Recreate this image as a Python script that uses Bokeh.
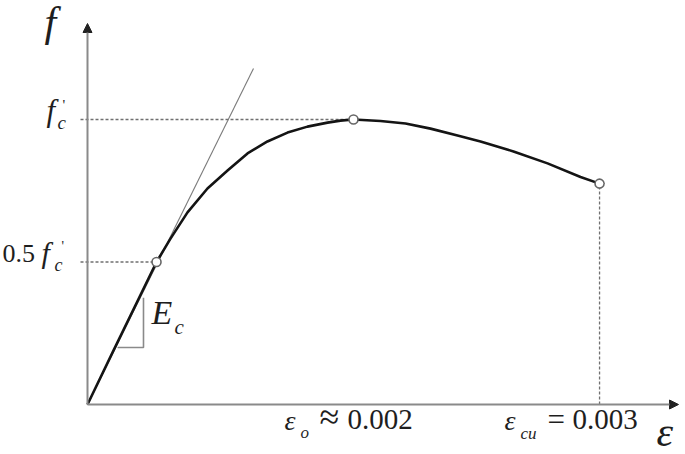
from bokeh.plotting import figure
from bokeh.models import Range1d, Arrow, NormalHead, Label
from bokeh.embed import file_html
from bokeh.resources import INLINE

# ---- data (schematic stress-strain curve of concrete) ----
strain = [0.0, 0.000195, 0.000519, 0.000624, 0.000752, 0.000902, 0.001053, 0.001203,
          0.001353, 0.001504, 0.001654, 0.001805, 0.001902, 0.002,
          0.002203, 0.002391, 0.002579, 0.002782, 0.002955, 0.003203, 0.003459, 0.003707, 0.00385]
stress_ratio = [0.0, 0.189, 0.5, 0.582, 0.674, 0.758, 0.821, 0.881,
                0.923, 0.954, 0.975, 0.989, 0.996, 1.0,
                0.995, 0.986, 0.968, 0.944, 0.923, 0.888, 0.846, 0.798, 0.775]
marker_strain = [0.000519, 0.002, 0.00385]
marker_stress = [0.5, 1.0, 0.775]
tangent_strain = [0.0, 0.001248]
tangent_stress = [0.0, 1.179]
triangle_strain = [0.000226, 0.000421, 0.000421]
triangle_stress = [0.2, 0.2, 0.375]

# ---- pixel -> data helpers (layout only) ----
X0_PX, XSCALE = 87.0, 133000.0   # canvas px at strain 0, px per unit strain
Y0_PX, YSCALE = 404.0, 285.0     # canvas px at stress 0, px per unit stress
def px2x(px):
    return (px - X0_PX) / XSCALE
def px2y(py):
    return (Y0_PX - py) / YSCALE

W, H = 685, 454
p = figure(width=W, height=H, output_backend="svg", toolbar_location=None,
           x_axis_type=None, y_axis_type=None, min_border=0,
           x_range=Range1d(px2x(0), px2x(W)), y_range=Range1d(px2y(H), px2y(0)))
p.outline_line_color = None
p.xgrid.visible = False
p.ygrid.visible = False
p.background_fill_color = "white"

axis_col = "#8a8a8a"
dash_col = "#707070"

# axes with arrows
p.add_layout(Arrow(end=NormalHead(size=9, fill_color="#222222", line_color="#222222"),
                   x_start=0, y_start=0, x_end=0, y_end=px2y(23),
                   line_color=axis_col, line_width=2))
p.add_layout(Arrow(end=NormalHead(size=9, fill_color="#222222", line_color="#222222"),
                   x_start=0, y_start=0, x_end=px2x(678), y_end=0,
                   line_color=axis_col, line_width=2))

# dashed guide lines
p.line([px2x(80), marker_strain[1]], [marker_stress[1], marker_stress[1]],
       line_color=dash_col, line_width=1.3, line_dash="3 2")
p.line([px2x(80), marker_strain[0]], [marker_stress[0], marker_stress[0]],
       line_color=dash_col, line_width=1.3, line_dash="3 2")
p.line([marker_strain[2], marker_strain[2]], [0, marker_stress[2]],
       line_color=dash_col, line_width=1.3, line_dash="3 2")

# tangent line and slope triangle
p.line(tangent_strain, tangent_stress, line_color="#7a7a7a", line_width=1.1)
p.line(triangle_strain, triangle_stress, line_color="#8a8a8a", line_width=1.6)

# curve
p.line(strain, stress_ratio, line_color="#141414", line_width=2.6, line_join="round")
p.scatter(marker_strain, marker_stress, size=9, fill_color="white",
          line_color="#666666", line_width=1.6)

SERIF = "'Liberation Serif', 'Times New Roman', serif"
TXT = "#1e1e1e"
def lab(text, px, py, size, italic=True):
    # py is the desired baseline; compensate for the renderer's baseline offset
    p.add_layout(Label(x=px2x(px), y=px2y(py - 0.37 * size), text=text, text_font=SERIF,
                       text_font_style="italic" if italic else "normal",
                       text_font_size=f"{size}px", text_color=TXT,
                       text_align="left", text_baseline="alphabetic"))

# y axis title
lab("f", 44, 37, 42)
# f'c
lab("f", 46, 121, 31)
lab("c", 57, 129, 19)
lab("'", 62, 110, 15, italic=False)
# 0.5 f'c
lab("0.5", 2, 263, 26, italic=False)
lab("f", 41, 263, 30)
lab("c", 54, 271, 18)
lab("'", 61, 251, 14, italic=False)
# Ec
lab("E", 151, 325, 34)
lab("c", 174, 334, 21)
# epsilon_o ~ 0.002
lab("ε", 284, 430, 28)
lab("o", 300, 438, 17)
lab("≈", 319, 430, 36, italic=False)
lab("0.002", 347, 430, 29, italic=False)
# epsilon_cu = 0.003
lab("ε", 504, 430, 28)
lab("cu", 520, 439, 17)
lab("=", 547, 430, 31, italic=False)
lab("0.003", 572, 430, 29, italic=False)
# x axis title
lab("ε", 656, 447, 42)

open("out.html", "w").write(file_html(p, INLINE))
